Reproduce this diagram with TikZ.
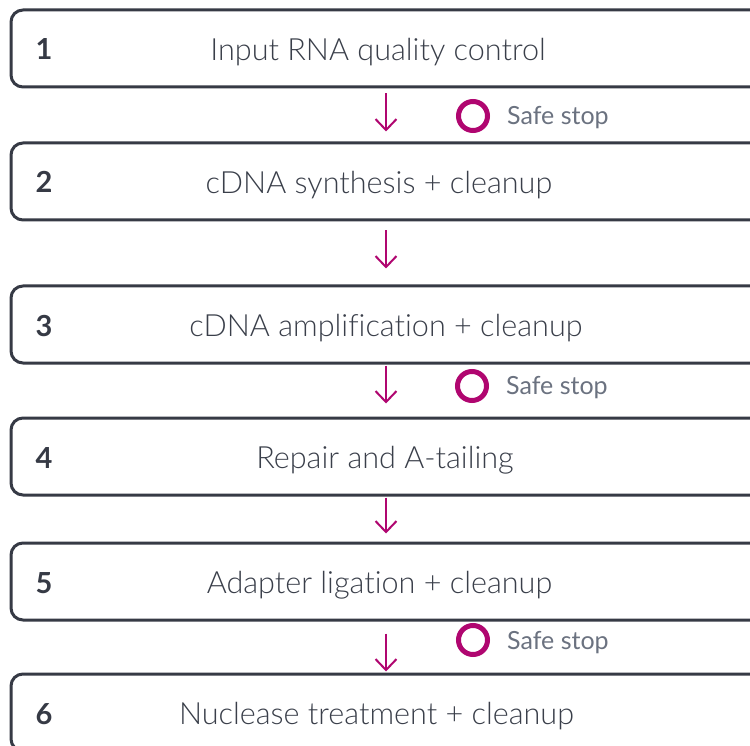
\documentclass[tikz,border=0pt]{standalone}
\usepackage{fontspec}
\setmainfont{Lato}[UprightFont=* Light, BoldFont=* Bold, Ligatures={NoCommon,NoRequired}]
\newfontfamily\regfont{Lato}[Ligatures={NoCommon,NoRequired}]
\usetikzlibrary{arrows.meta}
\definecolor{boxc}{HTML}{363A45}
\definecolor{txtc}{HTML}{3A3F4A}
\definecolor{mag}{HTML}{B00670}
\definecolor{gry}{HTML}{6B7280}
\tikzset{
 box/.style={draw=boxc, line width=3pt, rounded corners=12pt, minimum width=764pt, minimum height=77pt, inner sep=0pt},
 steptxt/.style={text=txtc, font=\fontsize{30.6}{34}\selectfont, inner sep=0pt, anchor=base},
 num/.style={text=boxc, font=\bfseries\fontsize{29}{32}\selectfont, inner sep=0pt, anchor=base},
 arr/.style={draw=mag, line width=2pt, -{Straight Barb[length=11pt,width=21pt,line width=2pt]}},
 ring/.style={circle, draw=mag, line width=5pt, minimum size=29pt, inner sep=0pt},
 safe/.style={text=gry, font=\regfont\fontsize{25}{29}\selectfont, anchor=base west, inner sep=0pt},
}
\begin{document}
\begin{tikzpicture}[x=1pt,y=-1pt]
\useasboundingbox (0,0) rectangle (750,746);
\clip (0,0) rectangle (750,746);
\fill[white] (0,0) rectangle (750,746);
\coordinate (ax) at (386,0);
% boxes
\node[box] (b1) at (393,48.5) {};
\node[box] (b2) at (393,181.5) {};
\node[box] (b3) at (393,324.5) {};
\node[box] (b4) at (393,456.5) {};
\node[box] (b5) at (393,581.5) {};
\node[box] (b6) at (393,712.5) {};
% numbers
\node[num] (n1) at (44,60) {1};
\node[num] (n2) at (44,193) {2};
\node[num] (n3) at (44,336) {3};
\node[num] (n4) at (44,468) {4};
\node[num] (n5) at (44,593) {5};
\node[num] (n6) at (44,724) {6};
% texts
\node[steptxt] (t1) at (378,60.5) {Input RNA quality control};
\node[steptxt] (t2) at (379,193.5) {cDNA synthesis + cleanup};
\node[steptxt] (t3) at (386,336.5) {cDNA amplification + cleanup};
\node[steptxt] (t4) at (385,468.5) {Repair and A-tailing};
\node[steptxt] (t5) at (379.5,593.5) {Adapter ligation + cleanup};
\node[steptxt] (t6) at (376.5,724.5) {Nuclease treatment + cleanup};
% arrows
\draw[arr] ([yshift=-5pt]b1.south -| ax) -- ([yshift=10pt]b2.north -| ax);
\draw[arr] ([yshift=-9pt]b2.south -| ax) -- ([yshift=16pt]b3.north -| ax);
\draw[arr] ([yshift=-1pt]b3.south -| ax) -- ([yshift=13pt]b4.north -| ax);
\draw[arr] ([yshift=-1pt]b4.south -| ax) -- ([yshift=8pt]b5.north -| ax);
\draw[arr] ([yshift=-12pt]b5.south -| ax) -- ([yshift=1pt]b6.north -| ax);
% safe stops
\node[ring] (r1) at (473,116) {};
\node[safe] (s1) at (507,124.5) {Safe stop};
\node[ring] (r2) at (472,386) {};
\node[safe] (s2) at (506,394) {Safe stop};
\node[ring] (r3) at (473,640) {};
\node[safe] (s3) at (507,649) {Safe stop};
\end{tikzpicture}
\end{document}
